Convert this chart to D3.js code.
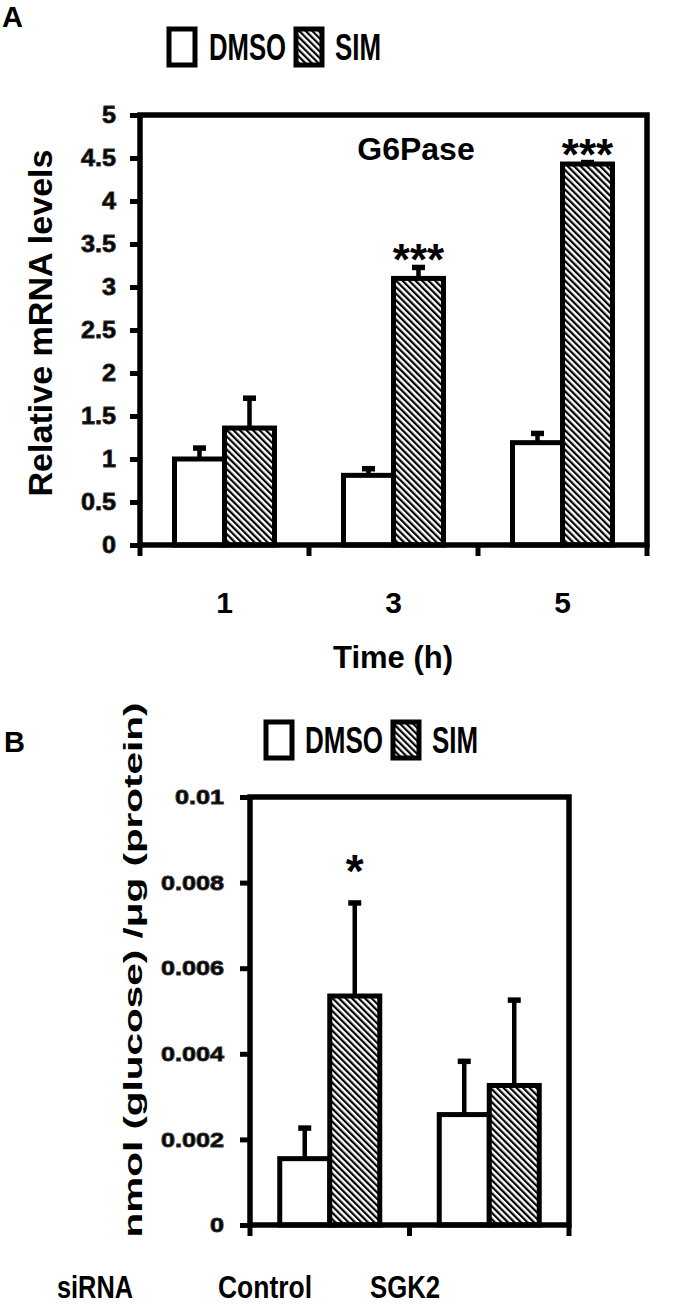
<!DOCTYPE html>
<html>
<head>
<meta charset="utf-8">
<script src="https://cdn.jsdelivr.net/npm/d3@7"></script>
<style>
  html, body { margin: 0; padding: 0; background: #fff; }
  svg { display: block; }
  text { font-family: "Liberation Sans", Arial, Helvetica, sans-serif; font-weight: bold; fill: #000; }
</style>
</head>
<body>
<script>
// ---------------- DATA ----------------
const seriesNames = ["DMSO", "SIM"];

// Panel A: G6Pase relative mRNA levels
const timeCategories = ["1", "3", "5"];
const dmsoA = [1.00, 0.81, 1.19];
const dmsoAErr = [0.13, 0.08, 0.11];
const simA = [1.36, 3.10, 4.43];
const simAErr = [0.35, 0.13, 0.02];
const simAStars = ["", "***", "***"];
const yTicksA = [0, 0.5, 1, 1.5, 2, 2.5, 3, 3.5, 4, 4.5, 5];
const yTickLabelsA = ["0", "0.5", "1", "1.5", "2", "2.5", "3", "3.5", "4", "4.5", "5"];

// Panel B: glucose production
const sirnaCategories = ["Control", "SGK2"];
const dmsoB = [0.00155, 0.00258];
const dmsoBErr = [0.00072, 0.00125];
const simB = [0.00535, 0.00326];
const simBErr = [0.00218, 0.00200];
const simBStars = ["*", ""];
const yTicksB = [0, 0.002, 0.004, 0.006, 0.008, 0.01];
const yTickLabelsB = ["0", "0.002", "0.004", "0.006", "0.008", "0.01"];

// ---------------- SVG ----------------
const W = 691, H = 1306;
const svg = d3.select("body").append("svg").attr("width", W).attr("height", H);

const defs = svg.append("defs");
const P = 4.6;
const pat = defs.append("pattern")
  .attr("id", "hatch")
  .attr("patternUnits", "userSpaceOnUse")
  .attr("width", P).attr("height", P)
  .attr("patternTransform", "rotate(-45)");
pat.append("rect").attr("width", P).attr("height", P).attr("fill", "#fff");
pat.append("rect").attr("x", 0).attr("y", 0).attr("width", 2.2).attr("height", P).attr("fill", "#000");

const fills = { DMSO: "#fff", SIM: "url(#hatch)" };

function legend(g, y, fs, items) {
  items.forEach(t => {
    g.append("rect").attr("x", t.boxX).attr("y", y).attr("width", 26).attr("height", 36)
      .attr("fill", fills[t.name]).attr("stroke", "#000").attr("stroke-width", 5);
    g.append("text").attr("x", t.textX).attr("y", y + 31).attr("font-size", fs)
      .attr("textLength", t.textW).attr("lengthAdjust", "spacingAndGlyphs").text(t.name);
  });
}

function panel(opts) {
  const g = svg.append("g");
  const { left, right, top, bottom, cats, dmso, dmsoErr, sim, simErr, stars, ticks, tickLabels, ymax, barW, tickFs, tickStretch } = opts;

  const y = d3.scaleLinear().domain([0, ymax]).range([bottom, top]);
  const x0 = d3.scaleBand().domain(cats).range([left, right]).padding(0);
  const bw = x0.bandwidth();
  const x1 = d3.scaleBand().domain(seriesNames).range([bw / 2 - barW, bw / 2 + barW]).padding(0);

  const yAxis = d3.axisLeft(y).tickValues(ticks).tickSize(10).tickFormat((d, i) => tickLabels[i]).tickPadding(opts.tickPad);
  const ya = g.append("g").attr("transform", `translate(${left},0)`).call(yAxis);
  ya.select(".domain").remove();
  ya.selectAll(".tick line").attr("stroke", "#000").attr("stroke-width", 5);
  ya.selectAll(".tick text")
    .attr("font-size", tickFs)
    .attr("font-family", "'Liberation Sans', Arial, sans-serif")
    .attr("font-weight", "bold")
    .attr("fill", "#111").attr("stroke", "#333").attr("stroke-width", 0.9)
    .each(function () {
      if (tickStretch !== 1) {
        const L = this.getComputedTextLength();
        d3.select(this).attr("textLength", L * tickStretch).attr("lengthAdjust", "spacingAndGlyphs");
      }
    });

  const bounds = cats.map(c => x0(c)).concat([right]);
  g.selectAll(".xtick").data(bounds).join("line")
    .attr("x1", d => d).attr("x2", d => d)
    .attr("y1", bottom).attr("y2", bottom + 11)
    .attr("stroke", "#000").attr("stroke-width", 5);

  const groups = g.selectAll(".grp").data(cats).join("g")
    .attr("transform", d => `translate(${x0(d)},0)`);

  const rows = cats.map((c, i) => ([
    { s: "DMSO", v: dmso[i], e: dmsoErr[i], star: "" },
    { s: "SIM", v: sim[i], e: simErr[i], star: stars[i] }
  ]));

  groups.each(function (c, i) {
    const gg = d3.select(this);
    rows[i].forEach(r => {
      const bx = x1(r.s), bwid = x1.bandwidth();
      gg.append("line").attr("x1", bx + bwid / 2).attr("x2", bx + bwid / 2)
        .attr("y1", y(r.v)).attr("y2", y(r.v + r.e))
        .attr("stroke", "#000").attr("stroke-width", 4.5);
      gg.append("rect").attr("x", bx + bwid / 2 - 6.5).attr("y", y(r.v + r.e) - 2.5)
        .attr("width", 13).attr("height", 5.5).attr("fill", "#000");
      gg.append("rect").attr("x", bx).attr("y", y(r.v))
        .attr("width", bwid).attr("height", bottom - y(r.v))
        .attr("fill", fills[r.s]).attr("stroke", "#000").attr("stroke-width", 5);
      if (r.star) {
        gg.append("text").attr("x", bx + bwid / 2).attr("y", y(r.v + r.e) + opts.starDy)
          .attr("text-anchor", "middle").attr("font-size", opts.starFs)
          .text(r.star);
      }
    });
  });

  g.append("rect").attr("x", left).attr("y", top).attr("width", right - left).attr("height", bottom - top)
    .attr("fill", "none").attr("stroke", "#000").attr("stroke-width", 5.5);

  return { g, x0, y };
}

// ---------------- PANEL A ----------------
svg.append("text").attr("x", 2).attr("y", 27).attr("font-size", 29).text("A");
legend(svg.append("g"), 29, 36, [
  { name: "DMSO", boxX: 169, textX: 209, textW: 77 },
  { name: "SIM", boxX: 296, textX: 335, textW: 46 }
]);

const A = panel({
  left: 140, right: 647, top: 115, bottom: 545,
  cats: timeCategories, dmso: dmsoA, dmsoErr: dmsoAErr, sim: simA, simErr: simAErr,
  stars: simAStars, ticks: yTicksA, tickLabels: yTickLabelsA, ymax: 5, barW: 50,
  tickFs: 24, tickStretch: 1.05, tickPad: 14, starFs: 44, starDy: 8
});
A.g.append("text").attr("x", 416).attr("y", 160).attr("text-anchor", "middle").attr("font-size", 32).text("G6Pase");
A.g.selectAll(".xl").data(timeCategories).join("text")
  .attr("x", d => A.x0(d) + A.x0.bandwidth() / 2).attr("y", 613)
  .attr("text-anchor", "middle").attr("font-size", 30).text(d => d);
A.g.append("text").attr("x", 393).attr("y", 668).attr("text-anchor", "middle").attr("font-size", 31).text("Time (h)");
A.g.append("text").attr("transform", "translate(52,323) rotate(-90)").attr("text-anchor", "middle")
  .attr("font-size", 33).attr("textLength", 347).attr("lengthAdjust", "spacingAndGlyphs").text("Relative mRNA levels");

// ---------------- PANEL B ----------------
svg.append("text").attr("x", 4).attr("y", 752).attr("font-size", 29).text("B");
legend(svg.append("g"), 722, 36, [
  { name: "DMSO", boxX: 266, textX: 305, textW: 78 },
  { name: "SIM", boxX: 393, textX: 432, textW: 46 }
]);

const B = panel({
  left: 250, right: 569, top: 797, bottom: 1225,
  cats: sirnaCategories, dmso: dmsoB, dmsoErr: dmsoBErr, sim: simB, simErr: simBErr,
  stars: simBStars, ticks: yTicksB, tickLabels: yTickLabelsB, ymax: 0.01, barW: 50,
  tickFs: 21, tickStretch: 1.2, tickPad: 16, starFs: 46, starDy: -16
});
B.g.append("text").attr("transform", "translate(142,970) rotate(-90)").attr("text-anchor", "middle")
  .attr("font-size", 26).attr("textLength", 535).attr("lengthAdjust", "spacingAndGlyphs").text("nmol (glucose) /\u03bcg (protein)");
const xLabelsB = ["siRNA"].concat(sirnaCategories);
const xLabelPosB = [95, 265, 405];
B.g.selectAll(".xl").data(xLabelsB).join("text")
  .attr("x", (d, i) => xLabelPosB[i]).attr("y", 1298)
  .attr("text-anchor", "middle").attr("font-size", 32)
  .attr("textLength", (d, i) => [76, 94, 70][i]).attr("lengthAdjust", "spacingAndGlyphs")
  .text(d => d);
</script>
</body>
</html>
